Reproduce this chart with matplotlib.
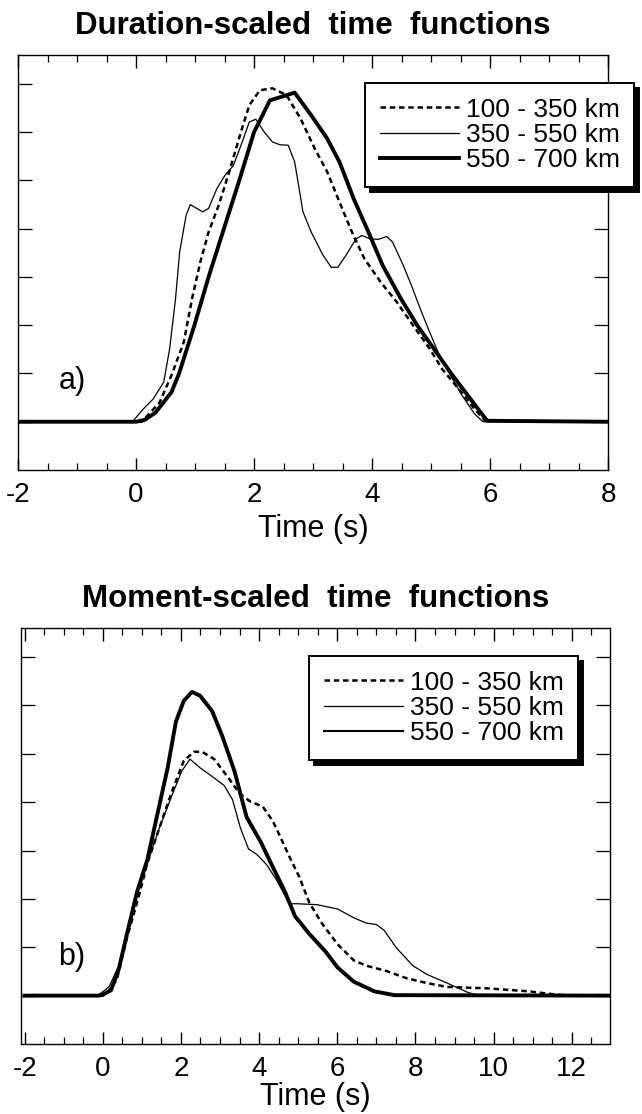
import numpy as np
import matplotlib
matplotlib.use("Agg")
import matplotlib.pyplot as plt
from matplotlib.ticker import MultipleLocator

plt.rcParams['font.family'] = ['Liberation Sans', 'DejaVu Sans']
plt.rcParams['axes.unicode_minus'] = False

labels = ['100 - 350 km', '350 - 550 km', '550 - 700 km']

# a) duration-scaled
dur_t1 = [-2, 0.1, 0.19, 0.40, 0.60, 0.81, 0.95, 1.09, 1.23, 1.40, 1.58, 1.78, 1.92, 2.10, 2.31,
          2.55, 2.79, 3.03, 3.24, 3.45, 3.66, 3.87, 4.15, 4.42, 4.70, 4.98, 5.19, 5.47, 5.74, 5.92, 8]
dur_y1 = [0, 0, 0.12, 0.40, 0.96, 1.65, 2.55, 3.31, 3.93, 4.48, 5.18, 6.01, 6.56, 6.87, 6.91,
          6.77, 6.28, 5.66, 5.18, 4.55, 3.93, 3.38, 2.89, 2.48, 1.99, 1.51, 1.09, 0.68, 0.26, 0.02, 0]

dur_t2 = [-2, -0.06, 0.12, 0.29, 0.47, 0.57, 0.67, 0.74, 0.85, 0.92, 1.13, 1.23, 1.37, 1.51, 1.65,
          1.78, 1.92, 2.03, 2.17, 2.31, 2.44, 2.58, 2.69, 2.83, 2.97, 3.17, 3.31, 3.42, 3.56, 3.73,
          3.83, 3.97, 4.11, 4.25, 4.35, 4.53, 4.67, 4.84, 4.98, 5.12, 5.33, 5.53, 5.74, 5.88, 8]
dur_y2 = [0, 0, 0.26, 0.47, 0.82, 1.51, 2.55, 3.52, 4.28, 4.50, 4.35, 4.42, 4.83, 5.11, 5.31,
          5.73, 6.21, 6.27, 6.01, 5.80, 5.74, 5.73, 5.38, 4.35, 3.93, 3.45, 3.20, 3.20, 3.45, 3.79,
          3.86, 3.79, 3.78, 3.84, 3.72, 3.24, 2.82, 2.27, 1.85, 1.44, 0.96, 0.54, 0.16, 0, 0]

dur_t3 = [-2, 0.0, 0.15, 0.33, 0.60, 0.73, 0.99, 1.23, 1.49, 1.75, 2.0, 2.27, 2.69, 2.97, 3.24,
          3.45, 3.69, 3.94, 4.18, 4.49, 4.77, 5.05, 5.33, 5.67, 5.95, 8]
dur_y3 = [0, 0, 0.04, 0.19, 0.61, 1.0, 2.0, 3.0, 4.0, 5.0, 6.0, 6.66, 6.82, 6.35, 5.87,
          5.38, 4.62, 3.93, 3.24, 2.55, 1.99, 1.51, 1.02, 0.47, 0.02, 0]

# b) moment-scaled
mom_t1 = [-2, 0.0, 0.10, 0.36, 0.62, 0.93, 1.14, 1.45, 1.76, 2.07, 2.33, 2.54, 2.85, 3.16, 3.52,
          3.78, 4.09, 4.35, 4.56, 4.77, 5.03, 5.28, 5.60, 6.01, 6.42, 6.74, 7.25, 7.77, 8.29, 8.81,
          9.84, 10.88, 11.4, 11.9, 13]
mom_y1 = [0, 0, 0.04, 0.33, 1.20, 2.08, 2.74, 3.47, 4.20, 4.85, 5.04, 5.04, 4.89, 4.56, 4.16,
          4.01, 3.91, 3.61, 3.25, 2.88, 2.45, 1.93, 1.50, 1.06, 0.73, 0.62, 0.51, 0.36, 0.26, 0.18,
          0.15, 0.09, 0.04, 0, 0]

mom_t2 = [-2, -0.15, -0.05, 0.16, 0.41, 0.67, 0.88, 1.14, 1.45, 1.76, 2.02, 2.23, 2.49, 2.80, 3.11,
          3.32, 3.52, 3.73, 3.94, 4.20, 4.46, 4.77, 4.97, 5.49, 6.01, 6.42, 6.74, 7.0, 7.2, 7.51,
          7.93, 8.29, 8.81, 9.33, 9.53, 13]
mom_y2 = [0, 0, 0.05, 0.18, 0.62, 1.42, 2.19, 2.74, 3.47, 4.12, 4.64, 4.89, 4.71, 4.53, 4.34,
          4.05, 3.47, 3.03, 2.92, 2.70, 2.37, 1.90, 1.90, 1.88, 1.79, 1.61, 1.50, 1.47, 1.35, 0.99,
          0.62, 0.44, 0.26, 0.07, 0.02, 0]

mom_t3 = [-2, -0.1, 0.0, 0.21, 0.41, 0.62, 0.88, 1.14, 1.40, 1.66, 1.87, 2.07, 2.28, 2.49, 2.80,
          3.06, 3.37, 3.68, 4.04, 4.35, 4.66, 4.92, 5.28, 5.70, 6.01, 6.42, 6.94, 7.46, 13]
mom_y3 = [0, 0, 0.02, 0.11, 0.55, 1.28, 2.15, 2.81, 3.76, 4.71, 5.66, 6.09, 6.28, 6.20, 5.88,
          5.36, 4.64, 3.69, 3.18, 2.66, 2.15, 1.64, 1.28, 0.91, 0.58, 0.29, 0.09, 0.01, 0]

dash = (0, (2.2, 1.5))
styles = [dict(color='k', lw=1.8, ls=dash),
          dict(color='k', lw=0.9),
          dict(color='k', lw=2.8)]

fig = plt.figure(figsize=(6.42, 11.14), dpi=100)
ax1 = fig.add_axes([18 / 642, 1 - 470 / 1114, 590 / 642, 415 / 1114])
ax2 = fig.add_axes([20.7 / 642, 1 - 1044 / 1114, 589 / 642, 416 / 1114])


def style_axes(ax, xlim, xmax_tick, labelpad):
    ax.set_xlim(*xlim)
    ax.set_ylim(-1, 7.6)
    ax.set_xticks(np.arange(-2, xmax_tick + 1, 2))
    ax.xaxis.set_minor_locator(MultipleLocator(0.5))
    ax.set_yticks(range(0, 8))
    ax.set_yticklabels([])
    ax.tick_params(axis='x', which='major', direction='in', length=9, width=1,
                   top=True, labelsize=20, pad=9)
    ax.tick_params(axis='x', which='minor', direction='in', length=5, width=0.9, top=True)
    ax.tick_params(axis='y', which='major', direction='in', length=10, width=0.9,
                   right=True)
    for s in ax.spines.values():
        s.set_linewidth(1.0)
    ax.set_xlabel('Time (s)', fontsize=22, labelpad=labelpad)


def add_legend(ax, x0, y0, thick_legend_lw):
    leg = ax.legend(labels, loc='upper left', bbox_to_anchor=(x0, y0),
                    bbox_transform=fig.transFigure, borderaxespad=0,
                    fontsize=19, handlelength=3.0, handletextpad=0.26,
                    borderpad=0.55, labelspacing=0.05, fancybox=False,
                    framealpha=1, edgecolor='k',
                    shadow={'ox': 3.5, 'oy': -3.5, 'color': 'k', 'alpha': 1})
    leg.get_frame().set_linewidth(1.4)
    leg.get_lines()[2].set_linewidth(thick_legend_lw)
    return leg


ax1.plot(dur_t1, dur_y1, **styles[0])
ax1.plot(dur_t2, dur_y2, **styles[1])
ax1.plot(dur_t3, dur_y3, **styles[2])
style_axes(ax1, (-2, 8), 8, 4)
ax1.set_title('Duration-scaled  time  functions', fontsize=22.5, fontweight='bold', pad=15)
ax1.text(-1.08, 0.85, 'a)', fontsize=22, ha='center', va='center')
add_legend(ax1, 365 / 642, 1 - 83 / 1114, 2.8)

ax2.plot(mom_t1, mom_y1, **styles[0])
ax2.plot(mom_t2, mom_y2, **styles[1])
ax2.plot(mom_t3, mom_y3, **styles[2])
style_axes(ax2, (-2.1, 12.97), 12, 0)
ax2.set_title('Moment-scaled  time  functions', fontsize=22.5, fontweight='bold', pad=15)
ax2.text(-0.8, 0.8, 'b)', fontsize=22, ha='center', va='center')
add_legend(ax2, 309 / 642, 1 - 656 / 1114, 1.5)

fig.savefig('out.png', dpi=100)
